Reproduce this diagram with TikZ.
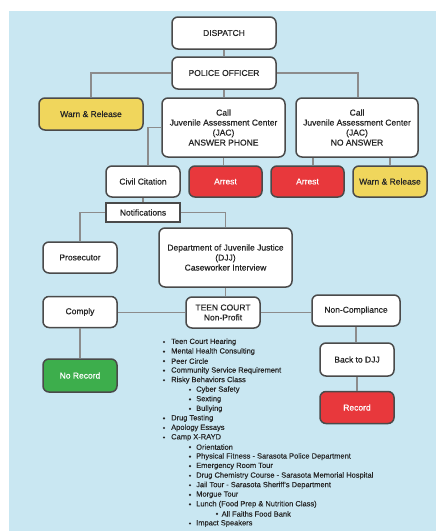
\documentclass[tikz,border=0pt]{standalone}
\usepackage{fontspec}
\setmainfont{Liberation Sans}
\newfontfamily\boxfont{Liberation Sans}[FakeBold=0.6]
\newfontfamily\listfont{Liberation Sans}[FakeBold=0.3]
\definecolor{bgblue}{HTML}{C9E7F2}
\definecolor{ywarn}{HTML}{F0D65C}
\definecolor{rarrest}{HTML}{E8383C}
\definecolor{gnorec}{HTML}{3DAE4C}
\definecolor{boxline}{HTML}{4A4A4A}
\definecolor{conline}{HTML}{8C8C8C}
\definecolor{txt}{HTML}{262626}
\begin{document}
\begin{tikzpicture}[x=1pt,y=-1pt,
  box/.style={draw=boxline,line width=1.5pt,rounded corners=6pt,fill=white,
    inner sep=0pt,align=center,text=txt,
    font=\boxfont\fontsize{8.5}{10}\selectfont},
  yellowbox/.style={box,fill=ywarn},
  redbox/.style={box,fill=rarrest,text=white},
  greenbox/.style={box,fill=gnorec,text=white},
  conn/.style={draw=conline,line width=1.5pt},
  item/.style={anchor=west,inner sep=0pt,text=txt,font=\listfont\fontsize{7.5}{8}\selectfont},
  dot/.style={fill=txt}]
\useasboundingbox (0,0) rectangle (436,531);
\fill[white] (0,0) rectangle (436,531);
\fill[bgblue] (9,11) rectangle (436,531);

\node[box,minimum width=104pt,minimum height=32pt] (dispatch) at (224,33) {DISPATCH};
\node[box,minimum width=104pt,minimum height=32pt] (police) at (224,73) {POLICE OFFICER};
\node[yellowbox,minimum width=104pt,minimum height=32pt] (warn1) at (91,114) {Warn \& Release};
\node[box,minimum width=123pt,minimum height=59pt] (jac) at (223.5,127.5) {Call\\Juvenile Assessment Center\\(JAC)\\ANSWER PHONE};
\node[box,minimum width=122pt,minimum height=59pt] (noans) at (357,127.5) {Call\\Juvenile Assessment Center\\(JAC)\\NO ANSWER};
\node[box,minimum width=74pt,minimum height=31pt] (civil) at (143,181.5) {Civil Citation};
\node[redbox,minimum width=73pt,minimum height=31pt] (arrest1) at (225.5,181.5) {Arrest};
\node[redbox,minimum width=73pt,minimum height=31pt] (arrest2) at (307.5,181.5) {Arrest};
\node[yellowbox,minimum width=74pt,minimum height=31pt] (warn2) at (390,181.5) {Warn \& Release};
\node[box,rounded corners=0pt,line width=1.8pt,minimum width=74pt,minimum height=19pt] (notif) at (143,212.5) {Notifications};
\node[box,minimum width=74pt,minimum height=31pt] (pros) at (80,257.5) {Prosecutor};
\node[box,minimum width=133pt,minimum height=59pt] (djj) at (225.5,257.5) {Department of Juvenile Justice\\(DJJ)\\Caseworker Interview};
\node[box,minimum width=74pt,minimum height=31pt] (comply) at (80,312) {Comply};
\node[box,minimum width=74pt,minimum height=31pt] (teen) at (223,312.5) {TEEN COURT\\Non-Profit};
\node[box,minimum width=88pt,minimum height=31pt] (noncomp) at (356,310.5) {Non-Compliance};
\node[greenbox,minimum width=74pt,minimum height=33pt] (norec) at (80,375.5) {No Record};
\node[box,minimum width=74pt,minimum height=33pt] (back) at (357,359.5) {Back to DJJ};
\node[redbox,minimum width=74pt,minimum height=32pt] (record) at (357,407.5) {Record};

\draw[conn] (dispatch.south) -- (police.north);
\draw[conn] (police.west) -| (warn1.north);
\draw[conn] (police.east) -| ([xshift=1pt]noans.north);
\draw[conn] (police.south) -- (police.south |- jac.north);
\draw[conn] (jac.west) -| ([xshift=5pt]civil.north);
\draw[conn] (jac.south) -- (jac.south |- arrest1.north);
\draw[conn] ([xshift=-44pt]noans.south) -- ([xshift=-44pt]noans.south |- arrest2.north);
\draw[conn] ([xshift=33pt]noans.south) -- ([xshift=33pt]noans.south |- warn2.north);
\draw[conn] (civil.south) -- (notif.north);
\draw[conn] (notif.west) -| (pros.north);
\draw[conn] (notif.east) -| (djj.north);
\draw[conn] (djj.south) -- (djj.south |- teen.north);
\draw[conn] (teen.west) -- (teen.west -| comply.east);
\draw[conn] (teen.east) -- (teen.east -| noncomp.west);
\draw[conn] (comply.south) -- (norec.north);
\draw[conn] (noncomp.south) -- (noncomp.south |- back.north);
\draw[conn] (back.south) -- (record.north);

% activity list
\foreach \lv/\itemtext [count=\i] in {
  1/Teen Court Hearing,
  1/Mental Health Consulting,
  1/Peer Circle,
  1/Community Service Requirement,
  1/Risky Behaviors Class,
  2/Cyber Safety,
  2/Sexting,
  2/Bullying,
  1/Drug Testing,
  1/Apology Essays,
  1/Camp X-RAYD,
  2/Orientation,
  2/Physical Fitness - Sarasota Police Department,
  2/Emergency Room Tour,
  2/Drug Chemistry Course - Sarasota Memorial Hospital,
  2/Jail Tour - Sarasota Sheriff's Department,
  2/Morgue Tour,
  2/Lunch (Food Prep \& Nutrition Class),
  3/All Faiths Food Bank,
  2/Impact Speakers}
{
  \pgfmathsetmacro{\yy}{342+9.55*(\i-1)}
  \pgfmathsetmacro{\bx}{\lv==1 ? 164 : (\lv==2 ? 190 : 217)}
  \pgfmathsetmacro{\xx}{\lv==1 ? 171 : (\lv==2 ? 196 : 221.5)}
  \fill[dot] (\bx,\yy) circle (1.2pt);
  \node[item] (li\i) at (\xx,\yy) {\itemtext};
}
\end{tikzpicture}
\end{document}
